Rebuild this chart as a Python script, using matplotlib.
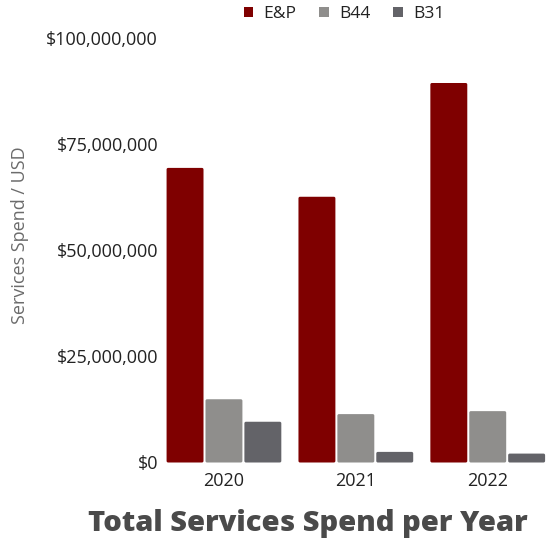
import matplotlib
matplotlib.use("Agg")
import matplotlib.pyplot as plt
import numpy as np
from matplotlib.ticker import FuncFormatter
from matplotlib.patches import FancyBboxPatch, Patch

years = ["2020", "2021", "2022"]
series_names = ["E&P", "B44", "B31"]
ep = [69.4e6, 62.6e6, 89.4e6]
b44 = [14.9e6, 11.4e6, 12.1e6]
b31 = [9.6e6, 2.5e6, 2.1e6]
colors = ["#7f0000", "#8f8e8c", "#636368"]

fig = plt.figure(figsize=(5.48, 5.41), dpi=100)
ax_w_px, ax_h_px = 390, 424.5
ax = fig.add_axes([158/548, 1-462.5/541, ax_w_px/548, ax_h_px/541])

ymax = 100e6
xlim = (-0.5, 2.457)
ax.set_ylim(0, ymax)
ax.set_xlim(*xlim)

x = np.arange(len(years))
w = 0.28
gap = 0.015
aspect = (ymax / ax_h_px) / ((xlim[1] - xlim[0]) / ax_w_px)
handles = []
for i, (vals, c, name) in enumerate(zip([ep, b44, b31], colors, series_names)):
    bars = ax.bar(x + (i - 1) * (w + gap), vals, width=w, color=c,
                  edgecolor="none", zorder=2)
    for b in bars:
        b.set_visible(False)
        p = FancyBboxPatch((b.get_x(), b.get_y()), b.get_width(), b.get_height(),
                           boxstyle="round,pad=0,rounding_size=0.012",
                           mutation_aspect=aspect, facecolor=c, edgecolor="none", zorder=2)
        ax.add_patch(p)
    handles.append(Patch(facecolor=c, edgecolor="none", label=name))

ax.set_yticks([0, 25e6, 50e6, 75e6, 100e6])
ax.yaxis.set_major_formatter(FuncFormatter(lambda v, p: "${:,.0f}".format(v)))
ax.set_xticks(x)
ax.set_xticklabels(years)
for s in ax.spines.values():
    s.set_visible(False)
ax.tick_params(axis="both", length=0, colors="#222222")
ax.tick_params(axis="y", labelsize=13, pad=0)
ax.tick_params(axis="x", labelsize=13, pad=7)
for t in ax.get_yticklabels() + ax.get_xticklabels():
    t.set_fontfamily("Open Sans")

fig.text(20/548, 1-235/541, "Services Spend / USD", rotation=90, ha="center", va="center",
         fontsize=13, color="#6b6b6b", family="Open Sans")

leg = fig.legend(handles=handles, loc="center", bbox_to_anchor=(344/548, 1-14/541), ncol=3,
                 frameon=False, handlelength=0.55, handleheight=0.55, handletextpad=0.6,
                 columnspacing=1.3, prop={"family": "Open Sans", "size": 12.5})
for t in leg.get_texts():
    t.set_color("#222222")

fig.text(308/548, 1-524/541, "Total Services Spend per Year", ha="center", va="center",
         fontsize=21, fontweight="heavy", color="#4a4a4a", family="Open Sans")

fig.savefig("out.png", dpi=100)
